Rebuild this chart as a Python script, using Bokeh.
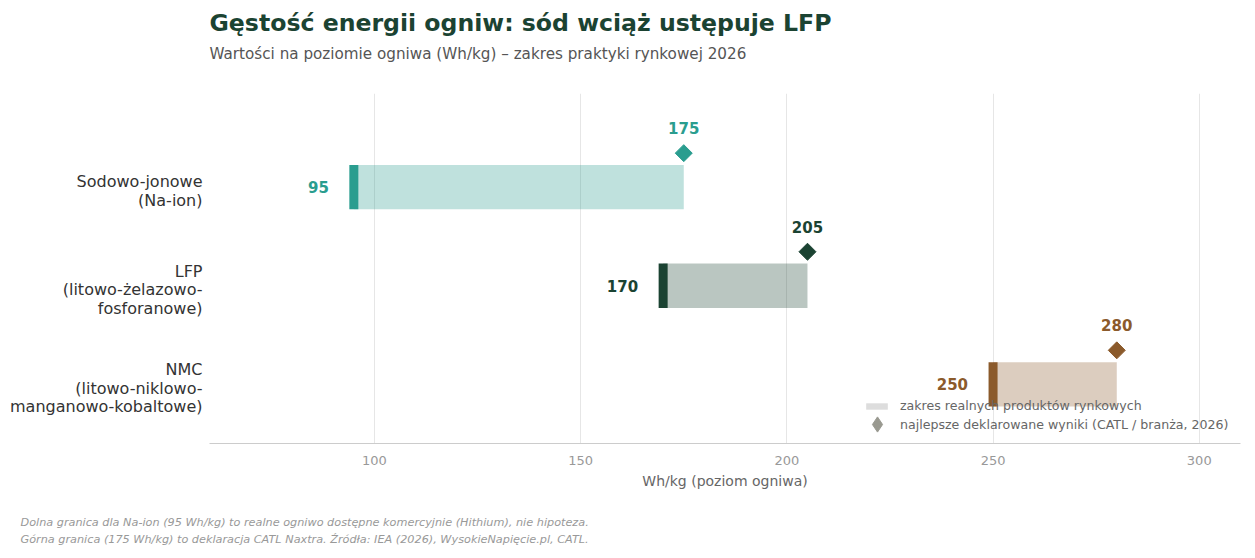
import math
from bokeh.plotting import figure
from bokeh.models import (Range1d, FixedTicker, Title, Legend, LegendItem,
                          ColumnDataSource)
from bokeh.core.properties import value
from bokeh.embed import file_html
from bokeh.resources import INLINE

# ---- data ----
categories = ["Sodowo-jonowe\n(Na-ion)",
              "LFP\n(litowo-żelazowo-\nfosforanowe)",
              "NMC\n(litowo-niklowo-\nmanganowo-kobaltowe)"]
low_values = [95, 170, 250]
high_values = [175, 205, 280]
series_colors = ["#2a9d8f", "#1b4332", "#8b5a2b"]
x_ticks = [100, 150, 200, 250, 300]
positions = [2, 1, 0]

title_text = "Gęstość energii ogniw: sód wciąż ustępuje LFP"
subtitle_text = "Wartości na poziomie ogniwa (Wh/kg) – zakres praktyki rynkowej 2026"
note_lines = ["Dolna granica dla Na-ion (95 Wh/kg) to realne ogniwo dostępne komercyjnie (Hithium), nie hipoteza.",
              "Górna granica (175 Wh/kg) to deklaracja CATL Naxtra. Źródła: IEA (2026), WysokieNapięcie.pl, CATL."]
legend_labels = ["zakres realnych produktów rynkowych",
                 "najlepsze deklarowane wyniki (CATL / branża, 2026)"]

FONT = "DejaVu Sans"
BAR_H = 0.45
DIAMOND_OFF = 0.345
LABEL_OFF = 0.6
TICK_SHIFT = 0.04   # nudges multi-line category labels slightly down
W, H = 1248, 556

src = ColumnDataSource(dict(
    y=positions,
    low=low_values,
    high=high_values,
    color=series_colors,
    low_txt=[str(v) for v in low_values],
    high_txt=[str(v) for v in high_values],
    dy=[p + DIAMOND_OFF for p in positions],
    ly=[p + LABEL_OFF for p in positions],
))

p = figure(width=W, height=H, output_backend="svg", toolbar_location=None,
           x_range=Range1d(60, 310), y_range=Range1d(-0.6, 2.95),
           min_border_left=209, min_border_right=8, min_border_top=93,
           min_border_bottom=H - 443, outline_line_color=None,
           background_fill_color="white")

# bars
p.hbar(y="y", left="low", right="high", height=BAR_H, source=src,
       fill_color="color", fill_alpha=0.3, line_alpha=0)
p.rect(x="low", y="y", width=9, width_units="screen", height=BAR_H, source=src,
       fill_color="color", line_alpha=0)
p.scatter(x="high", y="dy", marker="square", angle=math.pi / 4, size=12,
          source=src, fill_color="color", line_color="color")

p.text(x="low", y="y", text="low_txt", source=src, x_offset=-25,
       text_align="right", text_baseline="middle", text_color="color",
       text_font=value(FONT), text_font_style="bold", text_font_size="15px")
p.text(x="high", y="ly", text="high_txt", source=src,
       text_align="center", text_baseline="middle", text_color="color",
       text_font=value(FONT), text_font_style="bold", text_font_size="15px")

# legend (proxy renderers without visible marks)
nan = float("nan")
r1 = p.hbar(y=[nan], left=[nan], right=[nan], height=0.1,
            fill_color="#dddddd", line_alpha=0)
r2 = p.scatter(x=[nan], y=[nan], marker="diamond", size=12,
               fill_color="#999990", line_color="#999990")
common = dict(background_fill_alpha=0, border_line_alpha=0, padding=0, margin=0,
              label_text_font=FONT, label_text_font_size="12.6px",
              label_text_color="#666666")
leg_a = Legend(items=[LegendItem(label=legend_labels[0], renderers=[r1])],
               location=(654, 30), glyph_width=27, glyph_height=8,
               label_height=14, label_standoff=10, **common)
leg_b = Legend(items=[LegendItem(label=legend_labels[1], renderers=[r2])],
               location=(649, 0), glyph_width=38, glyph_height=38,
               label_height=14, label_standoff=4, **common)
p.add_layout(leg_a)
p.add_layout(leg_b)

# axes
p.xaxis.ticker = FixedTicker(ticks=x_ticks)
p.xaxis.axis_label = "Wh/kg (poziom ogniwa)"
p.xaxis.axis_label_text_font = FONT
p.xaxis.axis_label_text_font_style = "normal"
p.xaxis.axis_label_text_font_size = "14px"
p.xaxis.axis_label_text_color = "#666666"
p.xaxis.axis_label_standoff = 5
p.xaxis.major_label_text_font = FONT
p.xaxis.major_label_text_font_size = "13px"
p.xaxis.major_label_text_color = "#999999"
p.xaxis.major_label_standoff = 6
p.xaxis.axis_line_color = "#cccccc"
p.xaxis.major_tick_line_color = None
p.xaxis.minor_tick_line_color = None

label_ticks = [pos - TICK_SHIFT for pos in positions]
p.yaxis.ticker = FixedTicker(ticks=label_ticks)
p.yaxis.major_label_overrides = {t: lab for t, lab in zip(label_ticks, categories)}
p.yaxis.major_label_text_font = FONT
p.yaxis.major_label_text_font_size = "16px"
p.yaxis.major_label_text_color = "#333333"
p.yaxis.major_label_text_line_height = 0.98
p.yaxis.major_label_standoff = 1
p.yaxis.axis_line_color = None
p.yaxis.major_tick_line_color = None
p.yaxis.minor_tick_line_color = None

p.xgrid.grid_line_color = "#e6e6e6"
p.ygrid.grid_line_color = None

# titles (stacked outward from the frame)
p.add_layout(Title(text=" ", text_font_size="1px", standoff=28), "above")
p.add_layout(Title(text=subtitle_text, text_font=FONT, text_font_style="normal",
                   text_font_size="15.2px", text_color="#555555", standoff=0,
                   align="left"), "above")
p.add_layout(Title(text=title_text, text_font=FONT, text_font_style="bold",
                   text_font_size="23.6px", text_color="#1b4332", standoff=12,
                   align="left"), "above")

# footnotes
p.add_layout(Title(text=" ", text_font_size="1px", standoff=21), "below")
p.add_layout(Title(text=note_lines[0], text_font=FONT, text_font_style="italic",
                   text_font_size="11.25px", text_color="#999999", standoff=0,
                   align="left", vertical_align="top", offset=-189), "below")
p.add_layout(Title(text=note_lines[1], text_font=FONT, text_font_style="italic",
                   text_font_size="11.25px", text_color="#999999", standoff=4,
                   align="left", vertical_align="top", offset=-189), "below")

open("out.html", "w").write(file_html(p, INLINE))
